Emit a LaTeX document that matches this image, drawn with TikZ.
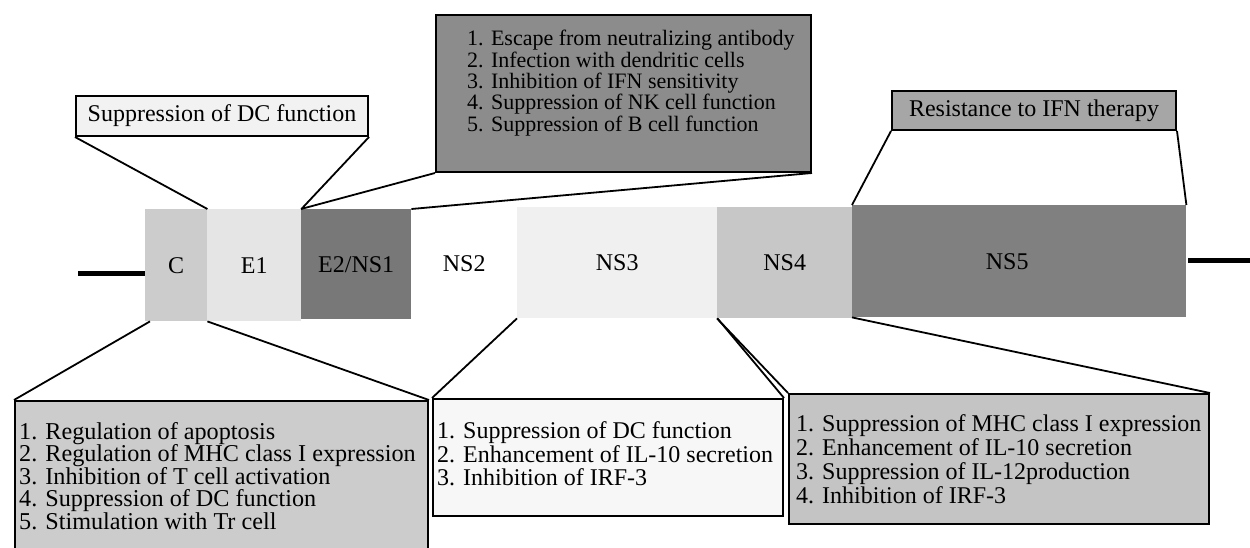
\documentclass[tikz,border=0pt]{standalone}
\usepackage{fontspec}
\setmainfont{Liberation Serif}
\usetikzlibrary{calc}
\definecolor{cC}{gray}{0.80}
\definecolor{cE1}{gray}{0.90}
\definecolor{cE2}{gray}{0.47}
\definecolor{cNS3}{gray}{0.94}
\definecolor{cNS4}{gray}{0.78}
\definecolor{cNS5}{gray}{0.50}
\definecolor{cT1}{gray}{0.95}
\definecolor{cT2}{gray}{0.55}
\definecolor{cT3}{gray}{0.65}
\definecolor{cB1}{gray}{0.80}
\definecolor{cB2}{gray}{0.97}
\definecolor{cB3}{gray}{0.77}
\begin{document}
\begin{tikzpicture}[x=1pt,y=-1pt,
  seg/.style={rectangle, inner sep=0pt, anchor=north west, font=\fontsize{24}{24}\selectfont},
  segtext/.style={inner sep=0pt, font=\fontsize{24}{24}\selectfont},
  box/.style={draw=black, line width=2pt, rectangle, inner sep=0pt, anchor=north west},
  conn/.style={line width=1.8pt},
  genome/.style={line width=5pt},
  lst/.style={anchor=west, align=left, inner sep=0pt}
]
\useasboundingbox (0,0) rectangle (1250,547);
\clip (0,0) rectangle (1250,547);

% genome segments
\node[seg, fill=cC,   minimum width=62pt,  minimum height=112pt] (C)   at (145,209) {C};
\node[seg, fill=cE1,  minimum width=94pt,  minimum height=112pt] (E1)  at (207,209) {E1};
\node[seg, fill=cE2,  minimum width=110pt, minimum height=110pt] (E2)  at (301,209) {E2/NS1};
\node[seg,            minimum width=106pt, minimum height=111pt] (NS2) at (411,208) {NS2};
\node[seg, fill=cNS3, minimum width=200pt, minimum height=111pt] (NS3) at (517,207) {NS3};
\node[seg, fill=cNS4, minimum width=135pt, minimum height=111pt] (NS4) at (717,207) {NS4};
\node[seg, fill=cNS5, minimum width=334pt, minimum height=112pt] (NS5) at (852,205) {};
\node[segtext] (NS5t) at ($(NS5.center)+(-12,0)$) {NS5};

% end lines
\coordinate (L) at (78,273);
\draw[genome] (L) -- (L -| C.west);
\coordinate (R) at (1250,260);
\draw[genome] ($(R -| NS5.east)+(2,0)$) -- (R);

% top boxes
\node[box, fill=cT1, minimum width=292pt, minimum height=40pt,
      font=\fontsize{24}{24}\selectfont] (T1) at (75,95) {Suppression of DC function};
\node[box, fill=cT2, minimum width=375pt, minimum height=157pt] (T2) at (435,14) {};
\node[lst, font=\fontsize{22}{21.3}\selectfont] (T2t) at (467,83) {%
1. Escape from neutralizing antibody\\
2. Infection with dendritic cells\\
3. Inhibition of IFN sensitivity\\
4. Suppression of NK cell function\\
5. Suppression of B cell function};
\node[box, fill=cT3, minimum width=284pt, minimum height=39pt,
      font=\fontsize{24}{24}\selectfont] (T3) at (891,90) {Resistance to IFN therapy};

% bottom boxes
\node[box, fill=cB1, minimum width=413pt, minimum height=170pt] (B1) at (14,400) {};
\node[lst, font=\fontsize{24.2}{22.6}\selectfont] (B1t) at (19,476) {%
1. Regulation of apoptosis\\
2. Regulation of MHC class I expression\\
3. Inhibition of T cell activation\\
4. Suppression of DC function\\
5. Stimulation with Tr cell};
\node[box, fill=cB2, minimum width=350pt, minimum height=117pt] (B2) at (432,398) {};
\node[lst, font=\fontsize{24}{23.3}\selectfont] (B2t) at (437,454) {%
1. Suppression of DC function\\
2. Enhancement of IL-10 secretion\\
3. Inhibition of IRF-3};
\node[box, fill=cB3, minimum width=420pt, minimum height=130pt] (B3) at (788,393) {};
\node[lst, font=\fontsize{24}{24}\selectfont] (B3t) at (796,459) {%
1. Suppression of MHC class I expression\\
2. Enhancement of IL-10 secretion\\
3. Suppression of IL-12production\\
4. Inhibition of IRF-3};

% connectors
\draw[conn] (T1.south west) -- (C.north east);
\draw[conn] (T1.south east) -- (E1.north east);
\draw[conn] (T2.south west) -- (E2.north west);
\draw[conn] (T2.south east) -- (E2.north east);
\draw[conn] (T3.south west) -- (NS5.north west);
\draw[conn] (T3.south east) -- (NS5.north east);
\draw[conn] (B1.north west) -- ($(C.south west)+(5,0)$);
\draw[conn] (B1.north east) -- (C.south east);
\draw[conn] (B2.north west) -- (NS3.south west);
\draw[conn] (B2.north east) -- (NS3.south east);
\draw[conn] (B3.north west) -- (NS4.south west);
\draw[conn] (B3.north east) -- (NS5.south west);
\end{tikzpicture}
\end{document}
